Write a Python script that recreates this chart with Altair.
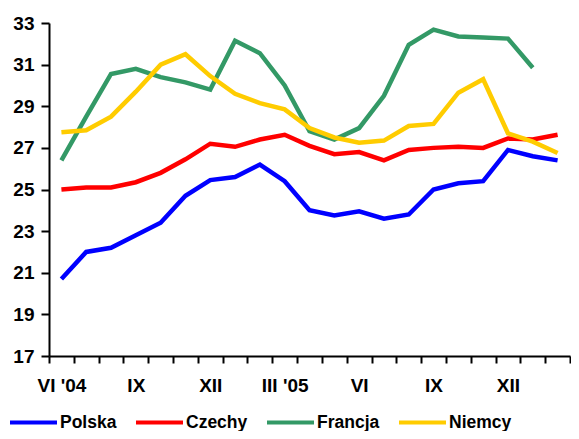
import json
import altair as alt
import pandas as pd

months = ["VI '04", "VII '04", "VIII '04", "IX '04", "X '04", "XI '04", "XII '04",
          "I '05", "II '05", "III '05", "IV '05", "V '05", "VI '05", "VII '05",
          "VIII '05", "IX '05", "X '05", "XI '05", "XII '05", "I '06", "II '06"]
tick_labels = ["VI '04", "", "", "IX", "", "", "XII", "", "", "III '05", "", "",
               "VI", "", "", "IX", "", "", "XII", "", ""]

polska = [20.7, 22.0, 22.2, 22.8, 23.4, 24.7, 25.45, 25.6, 26.2, 25.4, 24.0, 23.75,
          23.95, 23.6, 23.8, 25.0, 25.3, 25.4, 26.9, 26.6, 26.4]
czechy = [25.0, 25.1, 25.1, 25.35, 25.8, 26.45, 27.2, 27.05, 27.4, 27.63, 27.1, 26.7,
          26.8, 26.4, 26.9, 27.0, 27.05, 27.0, 27.45, 27.4, 27.63]
francja = [26.4, 28.5, 30.55, 30.8, 30.4, 30.15, 29.8, 32.15, 31.55, 30.0, 27.8, 27.4,
           27.95, 29.5, 31.95, 32.68, 32.35, 32.3, 32.25, 30.85]
niemcy = [27.75, 27.85, 28.5, 29.7, 31.0, 31.5, 30.45, 29.6, 29.15, 28.85, 27.95, 27.5,
          27.25, 27.35, 28.05, 28.15, 29.65, 30.3, 27.7, 27.3, 26.75]

series_names = ["Polska", "Czechy", "Francja", "Niemcy"]
series_colors = ["#0000FF", "#FF0000", "#339966", "#FFCC00"]
series_values = [polska, czechy, francja, niemcy]

rows = []
for name, vals in zip(series_names, series_values):
    for i, v in enumerate(vals):
        rows.append({"idx": i, "month": months[i], "series": name, "value": v})
df = pd.DataFrame(rows)

FONT = "Liberation Sans"
label_expr = json.dumps(tick_labels) + "[datum.value]"

chart = alt.Chart(df).mark_line(strokeWidth=4.5).encode(
    x=alt.X("idx:O",
            scale=alt.Scale(type="band", paddingInner=0, paddingOuter=0),
            axis=alt.Axis(title=None, tickBand="extent", labelExpr=label_expr,
                          labelAngle=0, tickSize=7, tickWidth=2, tickColor="black",
                          domainWidth=2, domainColor="black", labelFont=FONT,
                          labelFontSize=19, labelFontWeight="bold", labelColor="black",
                          labelPadding=13, grid=False)),
    y=alt.Y("value:Q",
            scale=alt.Scale(domain=[17, 33], nice=False, zero=False),
            axis=alt.Axis(title=None, values=list(range(17, 34, 2)), grid=False,
                          tickSize=8, tickWidth=2, tickColor="black", domainWidth=2,
                          domainColor="black", labelFont=FONT, labelFontSize=19,
                          labelFontWeight="bold", labelColor="black", labelPadding=7)),
    color=alt.Color("series:N",
                    scale=alt.Scale(domain=series_names, range=series_colors),
                    legend=alt.Legend(orient="none", legendX=-41, legendY=374,
                                      direction="horizontal", title=None,
                                      symbolType="stroke", symbolStrokeWidth=4,
                                      symbolSize=2209, labelFont=FONT,
                                      labelFontSize=17.5, labelFontWeight="bold",
                                      labelColor="black", columnPadding=11,
                                      labelOffset=1)),
    order=alt.Order("series:N"),
).properties(
    width=521, height=333,
    padding={"left": 41, "top": 15, "right": 1, "bottom": 75},
    autosize="none",
).configure_view(stroke=None)

chart.save("out.html", embed_options={"renderer": "svg", "actions": False})
